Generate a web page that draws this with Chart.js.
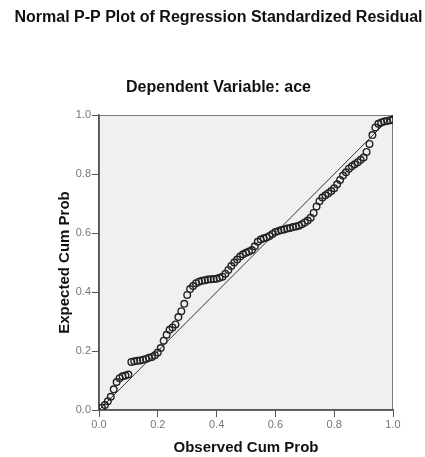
<!DOCTYPE html>
<html>
<head>
<meta charset="utf-8">
<title>Normal P-P Plot</title>
<script src="https://cdn.jsdelivr.net/npm/chart.js@4.4.1/dist/chart.umd.min.js"></script>
<style>
  html, body { margin: 0; padding: 0; background: #fff; }
  canvas { display: block; }
</style>
</head>
<body>
<canvas id="ppPlot" width="425" height="457"></canvas>
<script>
// ====================== Data ======================
const CHART_TITLE = "Normal P-P Plot of Regression Standardized Residual";
const CHART_SUBTITLE = "Dependent Variable: ace";
const X_LABEL = "Observed Cum Prob";
const Y_LABEL = "Expected Cum Prob";

// observed cumulative probability (x)
const observedCumProb = [
  0.01, 0.02, 0.03, 0.04, 0.05, 0.06, 0.07, 0.08, 0.09, 0.10,
  0.11, 0.12, 0.13, 0.14, 0.15, 0.16, 0.17, 0.18, 0.19, 0.20,
  0.21, 0.22, 0.23, 0.24, 0.25, 0.26, 0.27, 0.28, 0.29, 0.30,
  0.31, 0.32, 0.33, 0.34, 0.35, 0.36, 0.37, 0.38, 0.39, 0.40,
  0.41, 0.42, 0.43, 0.44, 0.45, 0.46, 0.47, 0.48, 0.49, 0.50,
  0.51, 0.52, 0.53, 0.54, 0.55, 0.56, 0.57, 0.58, 0.59, 0.60,
  0.61, 0.62, 0.63, 0.64, 0.65, 0.66, 0.67, 0.68, 0.69, 0.70,
  0.71, 0.72, 0.73, 0.74, 0.75, 0.76, 0.77, 0.78, 0.79, 0.80,
  0.81, 0.82, 0.83, 0.84, 0.85, 0.86, 0.87, 0.88, 0.89, 0.90,
  0.91, 0.92, 0.93, 0.94, 0.95, 0.96, 0.97, 0.98, 0.99, 1.00
];

// expected cumulative probability (y)
const expectedCumProb = [
  0.008, 0.017, 0.030, 0.045, 0.070, 0.095, 0.108, 0.114, 0.117, 0.120,
  0.163, 0.165, 0.167, 0.168, 0.170, 0.173, 0.177, 0.180, 0.186, 0.195,
  0.210, 0.235, 0.255, 0.272, 0.280, 0.290, 0.315, 0.335, 0.360, 0.390,
  0.410, 0.420, 0.430, 0.435, 0.438, 0.440, 0.442, 0.443, 0.444, 0.445,
  0.448, 0.452, 0.462, 0.475, 0.488, 0.500, 0.510, 0.520, 0.528, 0.533,
  0.537, 0.542, 0.555, 0.570, 0.578, 0.582, 0.585, 0.590, 0.597, 0.603,
  0.607, 0.610, 0.612, 0.615, 0.617, 0.620, 0.622, 0.625, 0.630, 0.636,
  0.642, 0.652, 0.668, 0.690, 0.708, 0.720, 0.728, 0.735, 0.742, 0.752,
  0.765, 0.780, 0.795, 0.806, 0.818, 0.826, 0.833, 0.840, 0.848, 0.856,
  0.875, 0.902, 0.932, 0.958, 0.970, 0.975, 0.978, 0.980, 0.982, 0.985
];

// diagonal reference line end points
const referenceX = [0, 1];
const referenceY = [0, 1];

const FONT = "'Liberation Sans', Arial, Helvetica, sans-serif";

// ====================== Plot background / frame ======================
const plotFrame = {
  id: "plotFrame",
  beforeDraw(chart) {
    const { ctx, chartArea: a } = chart;
    ctx.save();
    ctx.fillStyle = "#f0f0f0";
    ctx.fillRect(a.left, a.top, a.right - a.left, a.bottom - a.top);
    ctx.strokeStyle = "#7a7a7a";
    ctx.lineWidth = 1;
    ctx.strokeRect(a.left + 0.5, a.top + 0.5, a.right - a.left - 1, a.bottom - a.top);
    ctx.restore();
  }
};

// ====================== Chart ======================
const points = observedCumProb.map((x, i) => ({ x, y: expectedCumProb[i] }));
const diagonal = referenceX.map((x, i) => ({ x, y: referenceY[i] }));

const axisTicks = {
  stepSize: 0.2,
  padding: 1,
  color: "#777",
  font: { family: FONT, size: 11 },
  maxRotation: 0,
  callback: v => Number(v).toFixed(1)
};
const axisGrid = { drawOnChartArea: false, drawTicks: true, tickLength: 7, color: "#555" };
const axisBorder = { display: true, color: "#555", width: 1.5 };

new Chart(document.getElementById("ppPlot"), {
  type: "scatter",
  data: {
    datasets: [
      {
        data: points,
        pointStyle: "circle",
        pointRadius: 3.3,
        borderColor: "#222",
        borderWidth: 1.4,
        backgroundColor: "rgba(0,0,0,0)"
      },
      {
        type: "line",
        data: diagonal,
        borderColor: "#333",
        borderWidth: 1,
        pointRadius: 0,
        fill: false
      }
    ]
  },
  options: {
    responsive: false,
    animation: false,
    layout: { padding: { left: 12, right: 0, top: 0, bottom: 0 } },
    plugins: {
      legend: { display: false },
      tooltip: { enabled: false },
      title: {
        display: true,
        text: CHART_TITLE,
        color: "#111",
        font: { family: FONT, size: 16, weight: "bold" },
        padding: { top: 8.4, bottom: 25 }
      },
      subtitle: {
        display: true,
        text: CHART_SUBTITLE,
        color: "#111",
        font: { family: FONT, size: 16, weight: "bold" },
        padding: { top: 25.8, bottom: 17.4 }
      }
    },
    scales: {
      x: {
        type: "linear",
        position: "bottom",
        min: 0,
        max: 1,
        afterFit(s) { s.height = 47; },
        ticks: axisTicks,
        grid: axisGrid,
        border: axisBorder,
        title: {
          display: true,
          text: X_LABEL,
          color: "#111",
          font: { family: FONT, size: 15, weight: "bold" },
          padding: { top: 0, bottom: 0 }
        }
      },
      y: {
        type: "linear",
        position: "left",
        min: 0,
        max: 1,
        afterFit(s) { s.width = 87; },
        ticks: axisTicks,
        grid: axisGrid,
        border: axisBorder,
        title: {
          display: true,
          text: Y_LABEL,
          color: "#111",
          font: { family: FONT, size: 15, weight: "bold" },
          padding: { top: 44, bottom: 0 }
        }
      },
      // empty right-hand axis that only keeps the margin on the right
      y2: {
        type: "linear",
        position: "right",
        min: 0,
        max: 1,
        afterFit(s) { s.width = 32; },
        ticks: { display: false },
        grid: { display: false, drawTicks: false },
        border: { display: false }
      }
    }
  },
  plugins: [plotFrame]
});
</script>
</body>
</html>
